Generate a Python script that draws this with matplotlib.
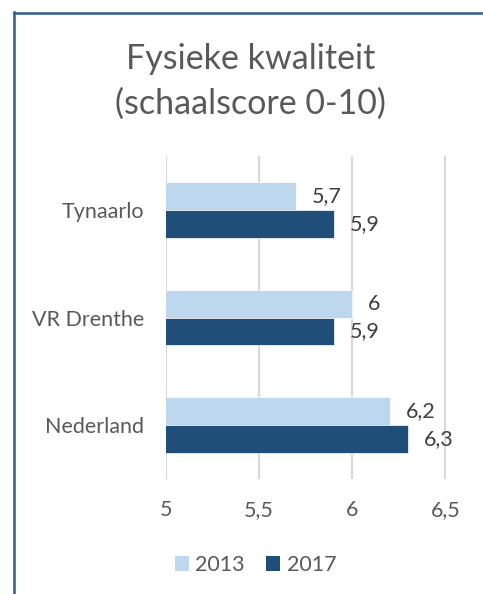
import matplotlib.pyplot as plt
import numpy as np
from matplotlib.lines import Line2D
from matplotlib.patches import Patch

# data
categories = ["Tynaarlo", "VR Drenthe", "Nederland"]
years = ["2013", "2017"]
values_2013 = [5.7, 6.0, 6.2]
values_2017 = [5.9, 5.9, 6.3]
xticks = [5, 5.5, 6, 6.5]

light = "#BDD7EE"
dark = "#1F4E79"
grey = "#595959"

plt.rcParams["font.family"] = ["Lato", "DejaVu Sans"]

fig = plt.figure(figsize=(4.83, 5.94), dpi=100)
ax = fig.add_axes([166 / 483, 1 - 479 / 594, 279.5 / 483, 323 / 594])

y = np.arange(len(categories))
h = 0.26
bars1 = ax.barh(y - h / 2, values_2013, height=h, color=light, edgecolor="white", linewidth=0.5, zorder=3)
bars2 = ax.barh(y + h / 2, values_2017, height=h, color=dark, edgecolor="white", linewidth=0.5, zorder=3)

def fmt(v):
    return f"{v:g}".replace(".", ",")

for bars, vals in [(bars1, values_2013), (bars2, values_2017)]:
    for b, v in zip(bars, vals):
        ax.text(v + 0.085, b.get_y() + b.get_height() / 2, fmt(v), ha="left", va="center",
                fontsize=15.5, color="#404040", zorder=4)

ax.set_xlim(5, 6.5)
ax.set_ylim(len(categories) - 0.5, -0.5)
ax.set_xticks(xticks)
ax.set_xticklabels([fmt(t) for t in xticks], fontsize=15.5, color=grey)
ax.set_yticks(y)
ax.set_yticklabels(categories, fontsize=15.5, color=grey)
ax.tick_params(length=0)
ax.tick_params(axis="x", pad=15)
ax.tick_params(axis="y", pad=16)
for s in ax.spines.values():
    s.set_visible(False)
ax.xaxis.grid(True, color="#D9D9D9", linewidth=1.6, zorder=0)
ax.set_axisbelow(True)

fig.text(0.518, 1 - 59 / 594, "Fysieke kwaliteit", ha="center", va="center", fontsize=24.5, color=grey)
fig.text(0.518, 1 - 104 / 594, "(schaalscore 0-10)", ha="center", va="center", fontsize=24.5, color=grey)

handles = [Patch(facecolor=light, label="2013"), Patch(facecolor=dark, label="2017")]
fig.legend(handles=handles, loc="center", bbox_to_anchor=(0.529, 1 - 565 / 594), ncol=2, frameon=False,
           fontsize=15.5, labelcolor=grey, handlelength=0.65, handleheight=0.65, handletextpad=0.3,
           columnspacing=1.0)

# chart border (left and top visible)
fig.add_artist(Line2D([13.5 / 483, 13.5 / 483], [0, 1 - 12 / 594], color="#2E5F8A", linewidth=1.8,
                      transform=fig.transFigure))
fig.add_artist(Line2D([13.5 / 483, 1], [1 - 12.5 / 594, 1 - 12.5 / 594], color="#2E5F8A", linewidth=1.8,
                      transform=fig.transFigure))

plt.savefig("out.png", dpi=100)
